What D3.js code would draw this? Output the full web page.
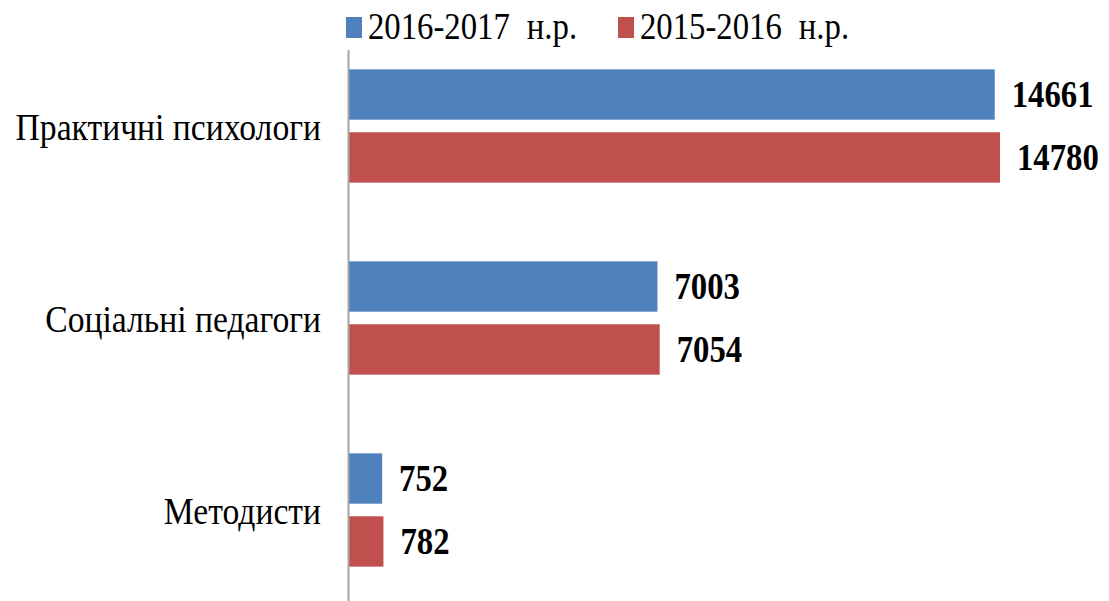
<!DOCTYPE html>
<html>
<head>
<meta charset="utf-8">
<script src="https://d3js.org/d3.v7.min.js"></script>
<style>
  body { margin: 0; background: white; }
</style>
</head>
<body>
<script>
var categories = ["Практичні психологи", "Соціальні педагоги", "Методисти"];
var seriesNames = ["2016-2017 н.р.", "2015-2016 н.р."];
var values2017 = [14661, 7003, 752];
var values2016 = [14780, 7054, 782];
var colors = ["#4F81BD", "#C0504D"];

var width = 1109, height = 601;
var x0 = 349;
var serif = "Liberation Serif";
var squeeze = 0.885; // reference glyphs look narrow, like a stretched picture

var svg = d3.select("body").append("svg")
  .attr("width", width)
  .attr("height", height);

var x = d3.scaleLinear()
  .domain([0, 14780])
  .range([x0, 1000]);

var y = d3.scaleBand()
  .domain(categories)
  .range([30, 606]);

var ySub = d3.scaleBand()
  .domain(seriesNames)
  .range([0, y.bandwidth()])
  .paddingInner(0.2)
  .paddingOuter(0.625);

var rows = [];
categories.forEach(function(c, i) {
  rows.push({cat: c, s: seriesNames[0], v: values2017[i], col: colors[0]});
  rows.push({cat: c, s: seriesNames[1], v: values2016[i], col: colors[1]});
});

// put text at (px,py) squeezed horizontally
function place(px, py) {
  return "translate(" + px + "," + py + ") scale(" + squeeze + ",1)";
}

// bars
svg.append("g").selectAll("rect")
  .data(rows)
  .enter().append("rect")
  .attr("x", x(0))
  .attr("y", d => y(d.cat) + ySub(d.s))
  .attr("width", d => x(d.v) - x(0))
  .attr("height", ySub.bandwidth())
  .attr("fill", d => d.col);

// value labels
svg.append("g").selectAll("text")
  .data(rows)
  .enter().append("text")
  .attr("transform", d => place(x(d.v) + 17, y(d.cat) + ySub(d.s) + ySub.bandwidth() / 2 + 12.5))
  .attr("font-family", serif)
  .attr("font-size", 37)
  .attr("font-weight", "bold")
  .attr("fill", "#000")
  .text(d => d.v);

// vertical axis line
svg.append("line")
  .attr("x1", x0 - 0.5).attr("x2", x0 - 0.5)
  .attr("y1", 50).attr("y2", 601)
  .attr("stroke", "#A6A6A6")
  .attr("stroke-width", 2);

// category labels
svg.append("g").selectAll("text")
  .data(categories)
  .enter().append("text")
  .attr("transform", d => place(321, y(d) + y.bandwidth() / 2 + 13.5))
  .attr("text-anchor", "end")
  .attr("font-family", serif)
  .attr("font-size", 38)
  .attr("fill", "#000")
  .text(d => d);

// legend
var legX = [346, 618];
var leg = svg.append("g").selectAll("g")
  .data(seriesNames)
  .enter().append("g")
  .attr("transform", (d, i) => "translate(" + legX[i] + ",0)");
leg.append("rect")
  .attr("x", 0).attr("y", 17)
  .attr("width", 16).attr("height", 21)
  .attr("fill", (d, i) => colors[i]);
leg.append("text")
  .attr("transform", place(22, 39))
  .attr("font-family", serif)
  .attr("font-size", 37)
  .attr("word-spacing", 10)
  .attr("fill", "#000")
  .text(d => d);
</script>
</body>
</html>
